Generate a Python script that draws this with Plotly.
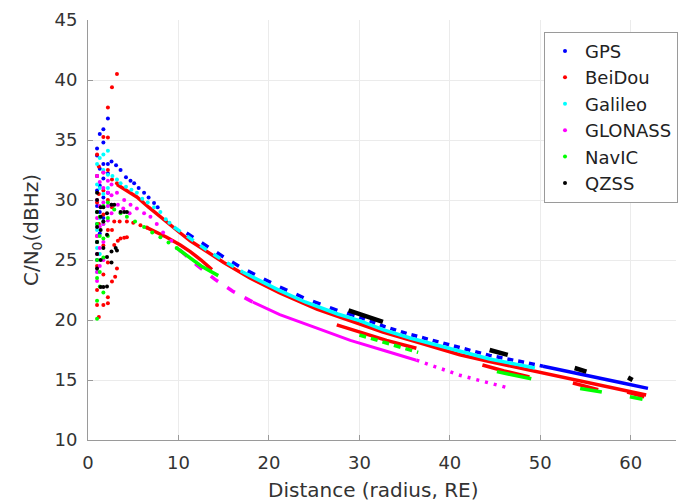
import plotly.graph_objects as go

# ---------------- data ----------------
x_ticks = [0, 10, 20, 30, 40, 50, 60]
y_ticks = [10, 15, 20, 25, 30, 35, 40, 45]

# GPS
gps_dot_x = [1.0, 1.0, 1.0, 1.0, 1.0, 1.0, 1.0, 1.0, 1.3, 1.3, 1.3, 1.3, 1.3,
             1.7, 1.7, 1.7, 1.7, 1.7, 1.7, 2.2, 2.2, 2.2, 2.2,
             2.6, 3.1, 3.6, 4.2, 4.7, 5.1, 5.6, 6.2, 6.7, 7.3, 7.7]
gps_dot_y = [34.3, 33.7, 32.0, 30.8, 29.5, 28.0, 26.5, 25.0, 35.5, 32.6, 31.2, 29.0, 27.2,
             35.9, 34.8, 33.0, 31.8, 30.2, 28.5, 36.8, 33.0, 32.2, 30.6,
             33.2, 32.9, 32.5, 31.9, 31.6, 31.4, 31.0, 30.6, 30.2, 29.75, 29.4]
gps_dash_a_x = [10.9, 12.9, 15.1, 17.1, 19.2, 21.2, 24.0, 27.6, 30.0]
gps_dash_a_y = [27.25, 26.25, 25.2, 24.3, 23.5, 22.75, 21.8, 20.8, 20.25]
gps_dash_b_x = [30.0, 32.6, 35.6, 38.6, 41.1, 44.4, 47.4, 50.3]
gps_dash_b_y = [20.25, 19.5, 18.8, 18.2, 17.65, 17.05, 16.6, 16.15]
gps_solid_x = [50.3, 53.3, 56.2, 59.1, 61.9]
gps_solid_y = [16.15, 15.65, 15.2, 14.75, 14.3]

# BeiDou
bds_dot_x = [1.0, 1.0, 1.0, 1.0, 1.0, 1.0, 1.0, 1.2, 1.2, 1.2, 1.2, 1.2,
             1.7, 1.7, 1.7, 1.7, 1.7, 1.7, 1.7, 2.2, 2.2, 2.2, 2.2, 2.2, 2.2, 2.2, 2.2,
             2.65, 2.65, 2.65, 2.65, 2.65, 3.2, 3.2, 3.0,
             2.9, 3.3, 3.6, 4.0, 4.3,
             2.9, 3.5, 4.3, 5.0, 5.8, 6.5, 3.2]
bds_dot_y = [33.8, 32.0, 29.8, 27.0, 24.5, 22.5, 21.25, 32.8, 30.5, 28.0, 25.5, 20.25,
             35.25, 32.3, 30.8, 28.8, 26.2, 23.8, 21.25, 37.7, 35.2, 32.5, 30.0, 27.5, 24.8, 21.9, 21.4,
             39.4, 31.7, 29.4, 27.5, 23.2, 40.5, 24.3, 23.6,
             26.25, 26.6, 26.8, 26.85, 26.9,
             28.2, 28.2, 28.2, 28.1, 27.9, 27.7, 31.4]
bds_main_x = [3.2, 3.6, 4.5, 5.4, 6.7, 8.0, 9.0, 10.2, 11.3, 13.0, 15.0, 17.9, 21.2, 25.3,
              30.0, 32.6, 36.0, 41.1, 44.0, 47.4, 50.0, 54.7, 58.0, 61.7]
bds_main_y = [31.3, 31.1, 30.7, 30.25, 29.4, 28.6, 27.9, 27.25, 26.6, 25.75, 24.8, 23.5, 22.25, 20.9,
              19.65, 19.0, 18.25, 17.1, 16.6, 16.05, 15.6, 14.85, 14.3, 13.75]
bds_low1_x = [6.5, 7.3, 8.7, 10.2, 11.3, 12.5, 13.7]
bds_low1_y = [27.7, 27.4, 26.9, 26.25, 25.7, 25.0, 24.2]
bds_low2_x = [27.5, 30.0, 33.0, 36.3]
bds_low2_y = [19.6, 19.0, 18.3, 17.65]
bds_low3_x = [43.6, 46.0, 48.8]
bds_low3_y = [16.25, 15.75, 15.25]
bds_low4_x = [53.6, 55.0, 56.4]
bds_low4_y = [14.75, 14.45, 14.2]
bds_low5_x = [59.6, 61.5]
bds_low5_y = [14.0, 13.6]

# Galileo
gal_dot_x = [1.0, 1.0, 1.0, 1.0, 1.0, 1.0, 1.3, 1.3, 1.3, 1.3,
             1.7, 1.7, 1.7, 1.7, 2.2, 2.2, 2.2, 2.2,
             2.7, 3.2, 3.6, 4.2, 4.8, 5.4, 6.0, 6.6, 7.3, 8.0, 8.6, 9.0]
gal_dot_y = [33.0, 31.3, 29.0, 27.5, 26.0, 24.0, 33.5, 31.0, 28.5, 25.5,
             33.8, 32.5, 30.5, 28.0, 34.1, 32.1, 31.0, 29.5,
             32.0, 31.7, 31.4, 31.1, 30.85, 30.6, 30.1, 29.8, 29.4, 29.0, 28.4, 28.1]
gal_dash_x = [9.5, 11.0, 13.1, 15.1, 17.1]
gal_dash_y = [27.75, 26.95, 25.85, 24.9, 24.0]
gal_solid_x = [17.1, 19.2, 21.2, 24.0, 27.6, 30.0, 32.6, 35.6, 38.6, 41.1, 44.4, 47.4, 49.4]
gal_solid_y = [24.0, 23.2, 22.45, 21.5, 20.5, 19.95, 19.2, 18.5, 17.9, 17.35, 16.75, 16.3, 16.0]

# GLONASS
glo_dot_x = [1.0, 1.0, 1.0, 1.0, 1.0, 1.0, 1.0, 1.3, 1.3, 1.3, 1.3, 1.3,
             1.7, 1.7, 1.7, 1.7, 1.7, 1.7, 2.2, 2.2, 2.2, 2.2, 2.6, 2.6, 2.6, 2.6,
             3.2, 4.0, 4.7, 5.4, 6.2, 6.9, 7.6, 8.3, 9.2, 10.2,
             3.3, 3.9, 4.6]
glo_dot_y = [32.0, 30.0, 28.5, 27.0, 25.5, 24.0, 23.25, 31.5, 29.5, 27.8, 26.0, 24.5,
             32.3, 31.0, 29.8, 28.0, 26.5, 25.0, 31.6, 30.6, 29.5, 28.3, 31.3, 30.4, 29.6, 28.9,
             30.6, 30.0, 29.6, 29.3, 28.9, 28.6, 28.0, 27.3, 26.6, 25.8,
             29.6, 29.3, 28.9]
glo_dash_x = [10.2, 12.0, 14.0, 16.0, 18.2]
glo_dash_y = [25.8, 24.6, 23.4, 22.4, 21.5]
glo_solid_x = [18.2, 21.2, 25.0, 29.0, 33.0, 36.3]
glo_solid_y = [21.5, 20.45, 19.4, 18.3, 17.4, 16.65]
glo_dotted_x = [36.3, 38.5, 41.1, 43.6, 46.4]
glo_dotted_y = [16.65, 16.05, 15.4, 14.9, 14.35]

# NavIC
nav_dot_x = [1.0, 1.0, 1.0, 1.0, 1.0, 1.0, 1.0, 1.3, 1.3, 1.3, 1.3,
             1.7, 1.7, 1.7, 1.7, 1.7, 2.2, 2.2, 2.2,
             2.9, 3.6, 4.3, 5.2, 6.2, 7.1, 8.0, 8.9, 9.8]
nav_dot_y = [29.0, 28.0, 26.5, 25.0, 23.5, 21.6, 20.1, 28.6, 27.0, 24.0, 22.8,
             29.5, 28.2, 26.8, 25.2, 22.3, 29.8, 28.5, 27.0,
             29.2, 28.9, 28.6, 28.2, 27.75, 27.3, 26.9, 26.45, 26.0]
nav_solid1_x = [9.8, 11.0, 12.5, 14.4]
nav_solid1_y = [26.0, 25.3, 24.5, 23.7]
nav_dash_x = [30.0, 32.0, 34.0, 36.5]
nav_dash_y = [18.75, 18.3, 17.85, 17.3]
nav_seg2_x = [45.2, 47.0, 49.0]
nav_seg2_y = [15.7, 15.4, 15.1]
nav_seg3_x = [54.4, 55.6, 56.8]
nav_seg3_y = [14.3, 14.15, 14.0]
nav_seg4_x = [59.9, 61.3]
nav_seg4_y = [13.6, 13.4]

# QZSS
qzs_dot_x = [1.0, 1.0, 1.0, 1.0, 1.0, 1.0, 1.0, 1.4, 1.4, 1.4, 1.4, 1.4,
             1.7, 1.7, 1.7, 1.7, 2.1, 2.1, 2.1, 2.1, 2.6, 2.6, 2.6,
             2.9, 3.6, 4.0, 4.3, 3.06, 3.2]
qzs_dot_y = [30.6, 30.0, 29.0, 27.75, 26.5, 25.5, 24.3, 29.4, 28.6, 27.5, 25.0, 22.75,
             29.4, 28.2, 26.0, 22.75, 28.9, 27.1, 25.25, 22.8, 29.6, 25.7, 24.8,
             29.6, 29.0, 29.0, 29.0, 26.0, 25.8]
qzs_seg1_x = [28.8, 30.5, 32.6]
qzs_seg1_y = [20.8, 20.35, 19.85]
qzs_seg2_x = [44.4, 45.4, 46.4]
qzs_seg2_y = [17.5, 17.3, 17.1]
qzs_seg3_x = [53.8, 55.1]
qzs_seg3_y = [16.0, 15.7]
qzs_seg4_x = [59.7, 60.2]
qzs_seg4_y = [15.2, 15.0]


def join(*parts):
    xs, ys = [], []
    for px, py in parts:
        if xs:
            xs.append(None)
            ys.append(None)
        xs += list(px)
        ys += list(py)
    return xs, ys


series = [
    ("GPS", "#0000ff", gps_dot_x, gps_dot_y, [
        (join((gps_dash_a_x, gps_dash_a_y)), "8px,10px", 3.5),
        (join((gps_dash_b_x, gps_dash_b_y)), "6px,5px", 3.5),
        (join((gps_solid_x, gps_solid_y)), "solid", 3.5)]),
    ("BeiDou", "#ff0000", bds_dot_x, bds_dot_y, [
        (join((bds_main_x, bds_main_y), (bds_low1_x, bds_low1_y), (bds_low2_x, bds_low2_y),
              (bds_low3_x, bds_low3_y), (bds_low4_x, bds_low4_y), (bds_low5_x, bds_low5_y)), "solid", 3.5)]),
    ("Galileo", "#00ffff", gal_dot_x, gal_dot_y, [
        (join((gal_dash_x, gal_dash_y)), "8px,8px", 3.5),
        (join((gal_solid_x, gal_solid_y)), "solid", 3.5)]),
    ("GLONASS", "#ff00ff", glo_dot_x, glo_dot_y, [
        (join((glo_dash_x, glo_dash_y)), "9px,11px", 3.5),
        (join((glo_solid_x, glo_solid_y)), "solid", 3.0),
        (join((glo_dotted_x, glo_dotted_y)), "3px,6px", 3.5)]),
    ("NavIC", "#00ff00", nav_dot_x, nav_dot_y, [
        (join((nav_solid1_x, nav_solid1_y), (nav_seg2_x, nav_seg2_y), (nav_seg3_x, nav_seg3_y),
              (nav_seg4_x, nav_seg4_y)), "solid", 3.5),
        (join((nav_dash_x, nav_dash_y)), "7px,5px", 3.5)]),
    ("QZSS", "#000000", qzs_dot_x, qzs_dot_y, [
        (join((qzs_seg1_x, qzs_seg1_y), (qzs_seg2_x, qzs_seg2_y), (qzs_seg3_x, qzs_seg3_y),
              (qzs_seg4_x, qzs_seg4_y)), "solid", 4.5)]),
]

fig = go.Figure()
for name, color, dx, dy, lines in series:
    fig.add_trace(go.Scatter(x=dx, y=dy, mode="markers", name=name,
                             marker=dict(color=color, size=4, line=dict(width=0))))
    for (lx, ly), dash, w in lines:
        fig.add_trace(go.Scatter(x=lx, y=ly, mode="lines", showlegend=False, hoverinfo="skip",
                                 connectgaps=False, line=dict(color=color, width=w, dash=dash)))

font_main = "DejaVu Sans"
axis_common = dict(
    showgrid=True, gridcolor="#ebebeb", gridwidth=1,
    showline=True, linecolor="#9a9a9a", linewidth=1,
    ticks="inside", ticklen=5, tickcolor="#9a9a9a",
    zeroline=False, mirror=False,
    tickfont=dict(family=font_main, size=18, color="#333333"),
)

fig.update_layout(
    width=679, height=502,
    margin=dict(l=88, r=3, t=20, b=62, autoexpand=False),
    paper_bgcolor="white", plot_bgcolor="white",
    font=dict(family=font_main, color="#333333"),
    showlegend=True,
    legend=dict(x=(544 - 88) / 588, y=0.972, xanchor="left", yanchor="top",
                bgcolor="white", bordercolor="#9a9a9a", borderwidth=1,
                font=dict(family=font_main, size=18, color="#222222"),
                itemwidth=30),
    xaxis=dict(range=[0, 65], tickvals=x_ticks, ticklabelstandoff=6, **axis_common),
    yaxis=dict(range=[10, 45], tickvals=y_ticks, ticklabelstandoff=6,
               title=dict(text="C/N<sub>0</sub>(dBHz)", standoff=10,
                          font=dict(family=font_main, size=20, color="#333333")),
               **axis_common),
    annotations=[dict(text="Distance (radius, RE)", xref="paper", yref="paper",
                      x=(373 - 88) / 588, y=-(490 - 440) / 420, xanchor="center", yanchor="middle",
                      showarrow=False, font=dict(family=font_main, size=20, color="#333333"))],
)

fig.write_html("out.html", config={"displayModeBar": False},
               post_script="document.body.style.margin='0px';document.body.style.overflow='hidden';")
